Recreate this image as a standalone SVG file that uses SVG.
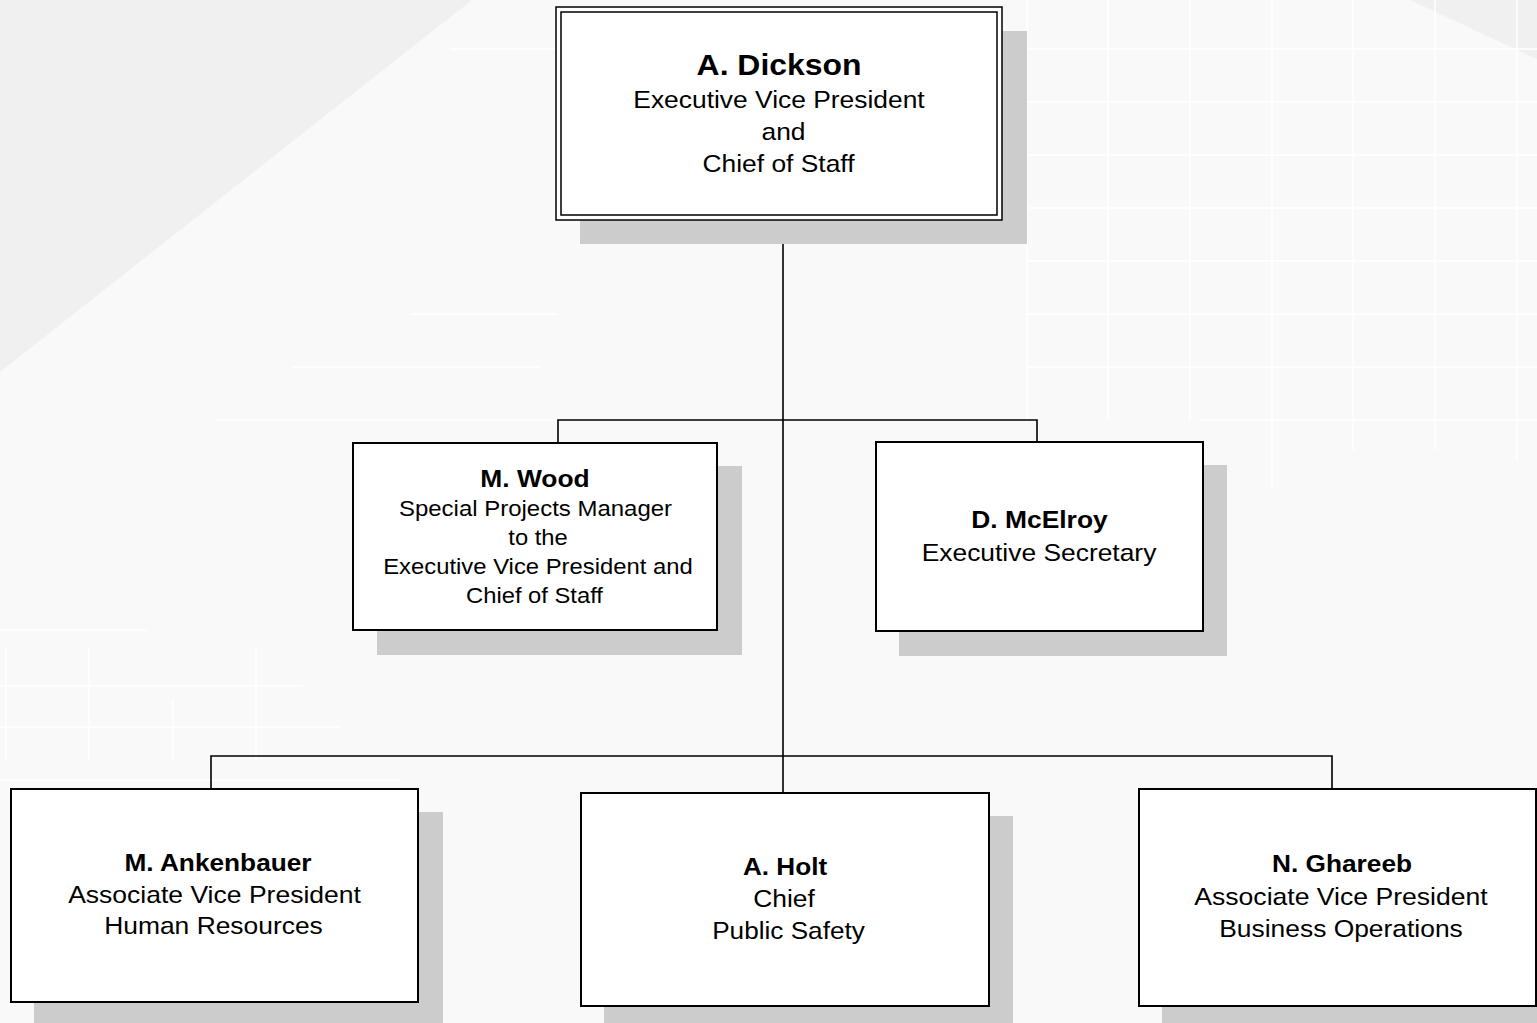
<svg xmlns="http://www.w3.org/2000/svg" width="1537" height="1023" viewBox="0 0 1537 1023">
<style>
.bg{fill:#f9f9f9}
.bgd{fill:#f0f0f0}
.grid{stroke:#ffffff;stroke-width:1.5;fill:none}
.shadow{fill:#cccccc}
.box{fill:#ffffff;stroke:#000000;stroke-width:2}
.dbl{fill:none;stroke:#000000;stroke-width:1.5}
.conn{stroke:#000000;stroke-width:1.6;fill:none}
text{font-family:"Liberation Sans",Arial,sans-serif;fill:#000000;text-anchor:middle;font-size:24px}
.n{font-weight:bold}
.s22{font-size:22px}
</style>
<rect class="bg" x="0" y="0" width="1537" height="1023"/>
<polygon class="bgd" points="0,0 472,0 0,372"/>
<polygon class="bgd" points="1410,0 1537,0 1537,59"/>
<g id="grid" class="grid">
<path d="M1027 0V420 M1108 0V420 M1190 0V420 M1272 0V490 M1353 0V450 M1435 0V450 M1517 0V460"/>
<path d="M1027 49H1537 M1027 102H1537 M1027 155H1537 M1027 208H1537 M1027 261H1537 M1027 314H1537 M1027 367H1537 M1200 420H1537"/>
<path d="M450 49H556 M410 314H556 M293 367H540 M215 420H556"/>
<path d="M0 630H147 M0 686H303 M0 727H340 M0 780H400 M6 648V760 M89 648V760 M173 700V760 M256 648V760"/>
</g>
<g id="connectors">
<path class="conn" d="M783 220V793"/>
<path class="conn" d="M558 443V420H1037V442"/>
<path class="conn" d="M211 789V756H1332V789"/>
</g>
<g id="dickson">
<rect class="shadow" x="580" y="31" width="447" height="213"/>
<rect x="556" y="7" width="446" height="213" fill="#ffffff" stroke="#000" stroke-width="1.5"/>
<rect class="dbl" x="561" y="12" width="436" height="203"/>
<text class="n" transform="translate(779 0) scale(1.1 1)" x="0" y="75" style="font-size:29px">A. Dickson</text>
<text transform="translate(779 0) scale(1.1 1)" x="0" y="108">Executive Vice President</text>
<text transform="translate(783.5 0) scale(1.1 1)" x="0" y="140">and</text>
<text transform="translate(778.5 0) scale(1.1 1)" x="0" y="172">Chief of Staff</text>
</g>
<g id="wood">
<rect class="shadow" x="377" y="466" width="365" height="189"/>
<rect class="box" x="353" y="443" width="364" height="187"/>
<text class="n" transform="translate(535 0) scale(1.1 1)" x="0" y="487">M. Wood</text>
<text class="s22" transform="translate(535.5 0) scale(1.09 1)" x="0" y="516">Special Projects Manager</text>
<text class="s22" transform="translate(538 0) scale(1.08 1)" x="0" y="545">to the</text>
<text class="s22" transform="translate(538 0) scale(1.084 1)" x="0" y="574">Executive Vice President and</text>
<text class="s22" transform="translate(534.5 0) scale(1.08 1)" x="0" y="603">Chief of Staff</text>
</g>
<g id="mcelroy">
<rect class="shadow" x="899" y="465" width="328" height="191"/>
<rect class="box" x="876" y="442" width="327" height="189"/>
<text class="n" transform="translate(1039.5 0) scale(1.1 1)" x="0" y="528">D. McElroy</text>
<text transform="translate(1039 0) scale(1.1 1)" x="0" y="561">Executive Secretary</text>
</g>
<g id="ankenbauer">
<rect class="shadow" x="34" y="812" width="409" height="215"/>
<rect class="box" x="11" y="789" width="407" height="213"/>
<text class="n" transform="translate(218 0) scale(1.094 1)" x="0" y="871">M. Ankenbauer</text>
<text transform="translate(214.5 0) scale(1.105 1)" x="0" y="903">Associate Vice President</text>
<text transform="translate(213.5 0) scale(1.1 1)" x="0" y="934">Human Resources</text>
</g>
<g id="holt">
<rect class="shadow" x="604" y="816" width="409" height="211"/>
<rect class="box" x="581" y="793" width="408" height="213"/>
<text class="n" transform="translate(785 0) scale(1.09 1)" x="0" y="875">A. Holt</text>
<text transform="translate(784 0) scale(1.1 1)" x="0" y="907">Chief</text>
<text transform="translate(788.5 0) scale(1.09 1)" x="0" y="939">Public Safety</text>
</g>
<g id="ghareeb">
<rect class="shadow" x="1162" y="812" width="380" height="215"/>
<rect class="box" x="1139" y="789" width="397" height="217"/>
<text class="n" transform="translate(1342 0) scale(1.094 1)" x="0" y="872">N. Ghareeb</text>
<text transform="translate(1341 0) scale(1.108 1)" x="0" y="905">Associate Vice President</text>
<text transform="translate(1341 0) scale(1.1 1)" x="0" y="937">Business Operations</text>
</g>
</svg>
